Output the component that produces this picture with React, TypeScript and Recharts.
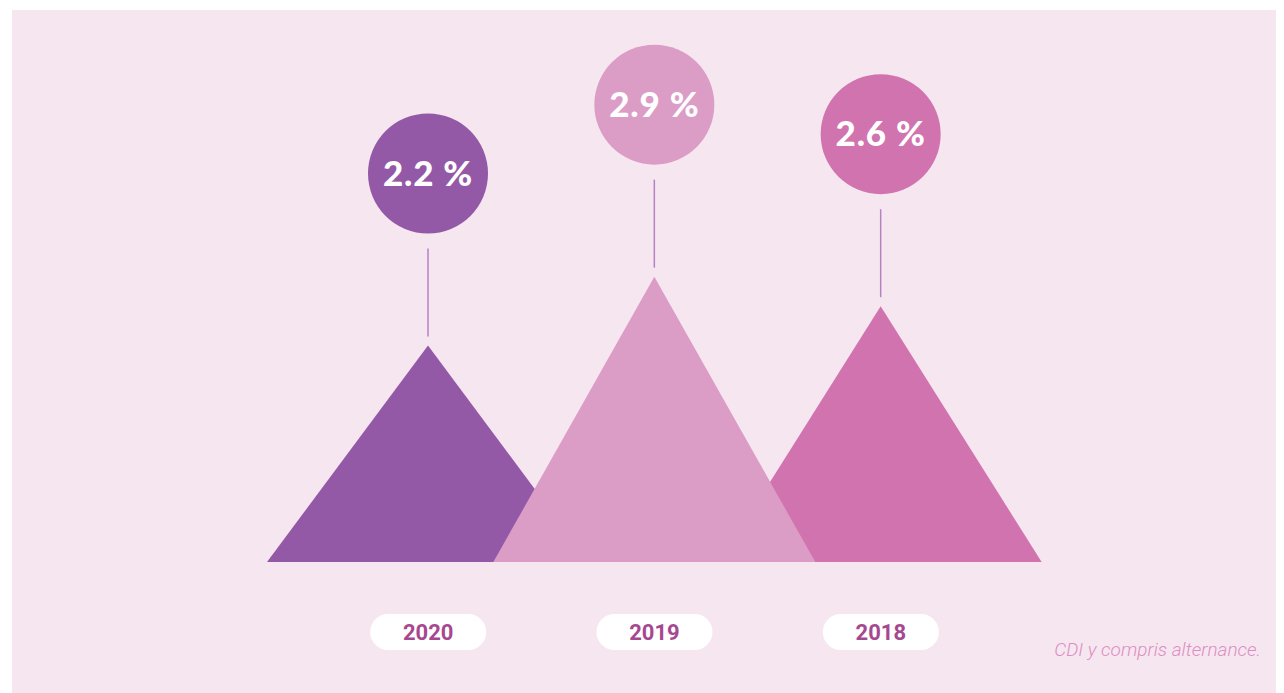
import React from 'react';
import { BarChart, Bar, XAxis, YAxis } from 'recharts';

const years = ['2020', '2019', '2018'];
const rates = [2.2, 2.9, 2.6];
const colors = ['#9459A6', '#DB9CC6', '#D073AE'];
const note = 'CDI y compris alternance.';

// 2019 sits on top of the other two triangles, so it goes in its own series
const chartData = years.map((year, i) => ({
  year,
  back: year === '2019' ? null : rates[i],
  front: year === '2019' ? rates[i] : null,
  color: colors[i],
}));

const makeTriangle = (key: 'back' | 'front') => (props: any) => {
  const { x, y, width, height, payload } = props;
  const v = payload[key];
  if (v == null) return <g />;
  const cx = x + width / 2;
  const base = y + height;
  const half = 161;
  const cy = y - 172;
  return (
    <g>
      <polygon points={`${cx - half},${base} ${cx},${y} ${cx + half},${base}`} fill={payload.color} />
      <line x1={cx} x2={cx} y1={y - 97} y2={y - 9} stroke="#B583C4" strokeWidth={1.5} />
      <circle cx={cx} cy={cy} r={60} fill={payload.color} />
      <text
        x={cx}
        y={cy + 12}
        textAnchor="middle"
        fill="#ffffff"
        fontFamily="Lato, sans-serif"
        fontWeight={900}
        fontSize={35}
        letterSpacing={0.8}
      >
        {`${v} %`}
      </text>
    </g>
  );
};

const YearTick = (props: any) => {
  const { x, y, payload } = props;
  const cy = y + 70;
  return (
    <g>
      <rect x={x - 58} y={cy - 18} width={116} height={36} rx={18} fill="#ffffff" />
      <text
        x={x}
        y={cy + 8}
        textAnchor="middle"
        fill="#A6488F"
        fontFamily="Roboto, sans-serif"
        fontWeight={700}
        fontSize={22}
      >
        {payload.value}
      </text>
    </g>
  );
};

export default function App() {
  return (
    <div style={{ position: 'relative', width: 1272, height: 683, marginLeft: 4, marginTop: 2, background: '#F6E6F0' }}>
      <BarChart
        width={1272}
        height={683}
        data={chartData}
        margin={{ top: 60, right: 290, bottom: 0, left: 303 }}
        barCategoryGap={0}
      >
        <XAxis
          dataKey="year"
          height={131}
          axisLine={false}
          tickLine={false}
          tickSize={0}
          tickMargin={0}
          tick={<YearTick />}
          interval={0}
        />
        <YAxis hide domain={[0, 5]} />
        <Bar dataKey="back" stackId="s" shape={makeTriangle('back')} isAnimationActive={false} />
        <Bar dataKey="front" stackId="s" shape={makeTriangle('front')} isAnimationActive={false} />
      </BarChart>
      <div
        style={{
          position: 'absolute',
          right: 23,
          top: 628,
          fontFamily: 'Roboto, sans-serif',
          fontStyle: 'italic',
          fontWeight: 300,
          fontSize: 19,
          color: '#DC8EC3',
        }}
      >
        {note}
      </div>
    </div>
  );
}
